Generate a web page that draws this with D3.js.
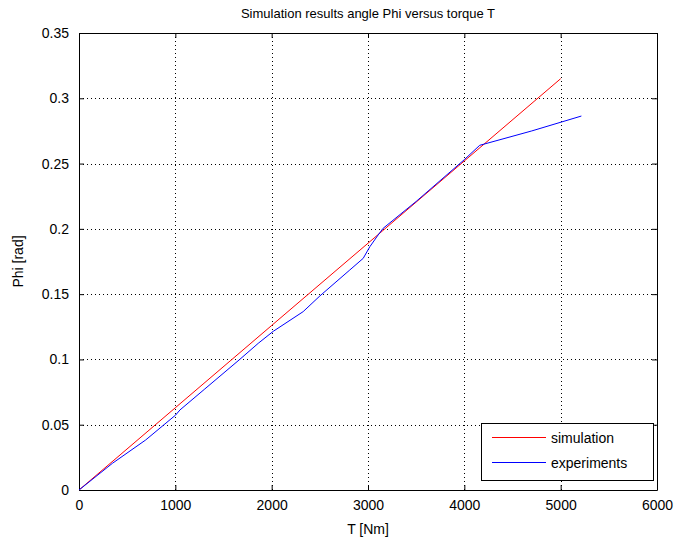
<!DOCTYPE html>
<html lang="en">
<head>
    <meta charset="UTF-8">
    <title>Simulation results angle Phi versus torque T</title>
    <script src="https://cdn.jsdelivr.net/npm/d3@7/dist/d3.min.js"></script>
    <style>
        body { margin: 0; background: #fff; }
        text { font-family: "Liberation Sans", Arial, sans-serif; fill: #000; }
    </style>
</head>
<body>
<script>
    // data
    let simT = [0, 1000, 2000, 3000, 4000, 5000];
    let simPhi = [0, 0.063, 0.126, 0.189, 0.252, 0.315];

    let expT = [0, 346, 692, 1003, 1048, 1300, 1670, 1860, 2016, 2327, 2500, 2811, 2950, 3019, 3105, 3157, 3500, 4000, 4160, 4700, 5215];
    let expPhi = [0, 0.0204, 0.0383, 0.0574, 0.0613, 0.077, 0.1001, 0.1123, 0.1215, 0.1366, 0.1486, 0.1685, 0.1774, 0.1863, 0.1953, 0.2004, 0.221, 0.253, 0.264, 0.275, 0.2864];

    let xTicks = [0, 1000, 2000, 3000, 4000, 5000, 6000];
    let yTicks = [0, 0.05, 0.1, 0.15, 0.2, 0.25, 0.3, 0.35];
    let seriesNames = ['simulation', 'experiments'];
    let seriesColors = ['#ff0000', '#0000ff'];

    let width = 678, height = 544;
    let plotLeft = 79, plotRight = 657, plotTop = 33, plotBottom = 490;

    let svg = d3.select('body').append('svg')
        .attr('width', width)
        .attr('height', height);

    let x = d3.scaleLinear().domain([0, 6000]).range([plotLeft, plotRight]);
    let y = d3.scaleLinear().domain([0, 0.35]).range([plotBottom, plotTop]);

    // grid
    svg.append('g').selectAll('line')
        .data(xTicks.slice(1, -1))
        .enter().append('line')
        .attr('x1', d => Math.round(x(d)) + 0.5).attr('x2', d => Math.round(x(d)) + 0.5)
        .attr('y1', plotTop).attr('y2', plotBottom)
        .attr('stroke', '#000').attr('stroke-dasharray', '1,3');
    svg.append('g').selectAll('line')
        .data(yTicks.slice(1, -1))
        .enter().append('line')
        .attr('y1', d => Math.round(y(d)) + 0.5).attr('y2', d => Math.round(y(d)) + 0.5)
        .attr('x1', plotLeft).attr('x2', plotRight)
        .attr('stroke', '#000').attr('stroke-dasharray', '1,3');

    // axes, ticks inside
    let fmtY = d => String(+d.toFixed(2));
    svg.append('g').attr('transform', `translate(0,${plotBottom})`)
        .call(d3.axisBottom(x).tickValues(xTicks).tickSizeInner(-5).tickSizeOuter(0).tickPadding(10).tickFormat(d3.format('d')));
    svg.append('g').attr('transform', `translate(0,${plotTop})`)
        .call(d3.axisTop(x).tickValues(xTicks).tickSizeInner(-5).tickSizeOuter(0).tickFormat(''));
    svg.append('g').attr('transform', `translate(${plotLeft},0)`)
        .call(d3.axisLeft(y).tickValues(yTicks).tickSizeInner(-5).tickSizeOuter(0).tickPadding(10).tickFormat(fmtY));
    svg.append('g').attr('transform', `translate(${plotRight},0)`)
        .call(d3.axisRight(y).tickValues(yTicks).tickSizeInner(-5).tickSizeOuter(0).tickFormat(''));

    svg.selectAll('.domain').attr('stroke', '#000');
    svg.selectAll('.tick line').attr('stroke', '#000');
    svg.selectAll('.tick text').style('font-size', '14px').attr('fill', '#000');

    // lines
    let line = d3.line().x(d => x(d[0])).y(d => y(d[1]));
    svg.append('path')
        .datum(simT.map((t, i) => [t, simPhi[i]]))
        .attr('d', line).attr('fill', 'none')
        .attr('stroke', seriesColors[0]).attr('stroke-width', 1);
    svg.append('path')
        .datum(expT.map((t, i) => [t, expPhi[i]]))
        .attr('d', line).attr('fill', 'none')
        .attr('stroke', seriesColors[1]).attr('stroke-width', 1);

    // titles
    svg.append('text').attr('x', (plotLeft + plotRight) / 2).attr('y', 18)
        .attr('text-anchor', 'middle').style('font-size', '13px')
        .text('Simulation results angle Phi versus torque T');
    svg.append('text').attr('x', (plotLeft + plotRight) / 2).attr('y', 534)
        .attr('text-anchor', 'middle').style('font-size', '14px')
        .text('T [Nm]');
    svg.append('text')
        .attr('transform', `translate(23,${(plotTop + plotBottom) / 2}) rotate(-90)`)
        .attr('text-anchor', 'middle').style('font-size', '14px')
        .text('Phi [rad]');

    // legend
    let legend = svg.append('g');
    legend.append('rect')
        .attr('x', 481.5).attr('y', 423.5).attr('width', 172).attr('height', 57)
        .attr('fill', '#fff').attr('stroke', '#000');
    seriesNames.forEach((name, i) => {
        let ly = 437.5 + i * 25;
        legend.append('line')
            .attr('x1', 492).attr('x2', 546).attr('y1', ly).attr('y2', ly)
            .attr('stroke', seriesColors[i]);
        legend.append('text')
            .attr('x', 551).attr('y', ly + 5).style('font-size', '14px')
            .text(name);
    });
</script>
</body>
</html>
